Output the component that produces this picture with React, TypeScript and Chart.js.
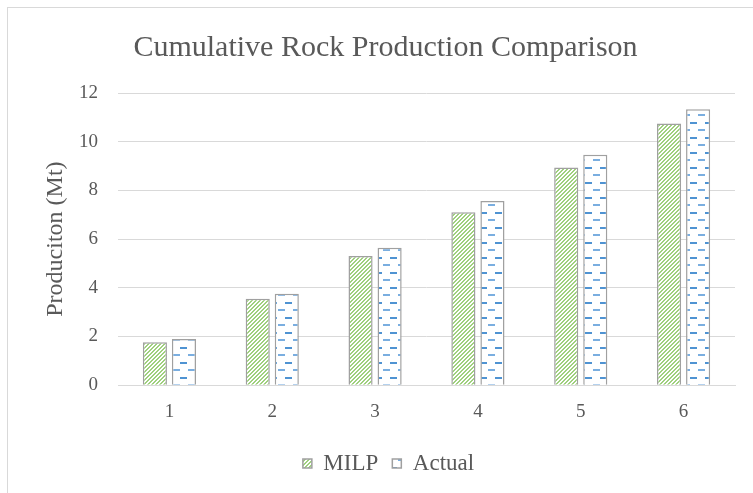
import { useEffect, useRef } from 'react';
import { Chart, registerables } from 'chart.js';

Chart.register(...registerables);

// Cumulative production per period (Mt)
const periods = ['1', '2', '3', '4', '5', '6'];
const milpValues = [1.76, 3.55, 5.31, 7.1, 8.94, 10.75];
const actualValues = [1.9, 3.76, 5.64, 7.56, 9.46, 11.33];
const yMin = 0;
const yMax = 12;
const yStep = 2;

const TEXT = '#595959';
const GRID = '#d9d9d9';
const SERIF = '"Liberation Serif", "Times New Roman", serif';

// Diagonal green hatching for the MILP series
function makeStripePattern(ctx: CanvasRenderingContext2D): CanvasPattern | string {
  const c = document.createElement('canvas');
  c.width = 4;
  c.height = 4;
  const p = c.getContext('2d');
  if (!p) return '#a9d18e';
  p.fillStyle = '#ffffff';
  p.fillRect(0, 0, 4, 4);
  p.fillStyle = '#9fd07e';
  for (let y = 0; y < 4; y++) {
    const x = 3 - y;
    p.fillRect(x, y, 1, 1);
    p.fillRect((x + 1) % 4, y, 1, 1);
  }
  return ctx.createPattern(c, 'repeat') || '#a9d18e';
}

// Staggered blue dashes for the Actual series
function makeDashPattern(ctx: CanvasRenderingContext2D): CanvasPattern | string {
  const c = document.createElement('canvas');
  c.width = 15;
  c.height = 15;
  const p = c.getContext('2d');
  if (!p) return '#9dc3e6';
  p.fillStyle = '#ffffff';
  p.fillRect(0, 0, 15, 15);
  p.fillStyle = '#4f93d2';
  p.fillRect(0, 2, 7, 2);
  p.fillStyle = '#7aaee0';
  p.fillRect(8, 9, 7, 2);
  return ctx.createPattern(c, 'repeat') || '#9dc3e6';
}

export default function App() {
  const canvasRef = useRef<HTMLCanvasElement | null>(null);

  useEffect(() => {
    const canvas = canvasRef.current;
    if (!canvas) return;
    const ctx = canvas.getContext('2d');
    if (!ctx) return;

    const stripe = makeStripePattern(ctx);
    const dash = makeDashPattern(ctx);

    const chart = new Chart(ctx, {
      type: 'bar',
      data: {
        labels: periods,
        datasets: [
          {
            label: 'MILP',
            data: milpValues,
            backgroundColor: stripe as any,
            borderColor: '#a0a0a0',
            borderWidth: 1.5,
            categoryPercentage: 0.565,
            barPercentage: 0.83,
          },
          {
            label: 'Actual',
            data: actualValues,
            backgroundColor: dash as any,
            borderColor: '#a0a0a0',
            borderWidth: 1.5,
            categoryPercentage: 0.565,
            barPercentage: 0.83,
          },
        ],
      },
      options: {
        responsive: false,
        animation: false,
        devicePixelRatio: 1,
        layout: { padding: { left: 0, right: 18, top: 0, bottom: 8 } },
        plugins: {
          title: {
            display: true,
            text: 'Cumulative Rock Production Comparison',
            color: TEXT,
            font: { family: SERIF, size: 30, weight: 'normal' },
            padding: { top: 30, bottom: 27 },
          },
          legend: {
            display: true,
            position: 'bottom',
            labels: {
              color: TEXT,
              font: { family: SERIF, size: 23 },
              boxWidth: 9,
              boxHeight: 9,
              padding: 14,
            },
          },
          tooltip: { enabled: false },
        },
        scales: {
          x: {
            grid: { display: true, drawOnChartArea: false, drawTicks: false },
            border: { display: true, color: GRID, width: 1 },
            ticks: { color: TEXT, font: { family: SERIF, size: 19 }, padding: 15 },
          },
          y: {
            min: yMin,
            max: yMax,
            ticks: { stepSize: yStep, color: TEXT, font: { family: SERIF, size: 19 }, padding: 20 },
            grid: { color: GRID, lineWidth: 1, drawTicks: false },
            border: { display: false },
            title: {
              display: true,
              text: 'Produciton (Mt)',
              color: TEXT,
              font: { family: SERIF, size: 24 },
              padding: { top: 41, bottom: 0 },
            },
            afterFit: (scale: any) => {
              scale.width = 118;
            },
          },
        },
      },
      plugins: [
        {
          id: 'boxOffsets',
          afterLayout(c: any) {
            // the title and legend sit centred on the outer chart frame
            const lg = c.legend;
            if (lg) {
              lg.left += 21;
              lg.right += 21;
            }
            const tt = c.titleBlock;
            if (tt) {
              tt.left += 18;
              tt.right += 18;
            }
          },
        },
      ],
    });

    return () => chart.destroy();
  }, []);

  return (
    <div
      style={{
        position: 'fixed',
        left: 0,
        top: 0,
        width: 753,
        height: 493,
        overflow: 'hidden',
        background: '#ffffff',
      }}
    >
      <div
        style={{
          position: 'absolute',
          left: 7,
          top: 7,
          width: 900,
          height: 700,
          border: '1px solid #d9d9d9',
        }}
      />
      <canvas
        ref={canvasRef}
        width={753}
        height={493}
        style={{ position: 'absolute', left: 0, top: 0 }}
      />
    </div>
  );
}
